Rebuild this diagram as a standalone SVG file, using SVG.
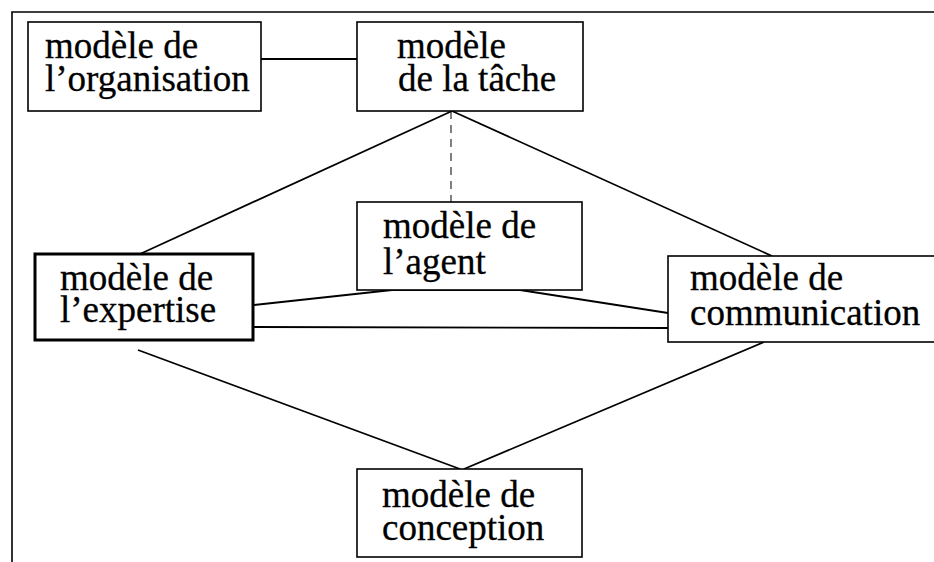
<svg xmlns="http://www.w3.org/2000/svg" width="934" height="562" viewBox="0 0 934 562">
<style>
.box{fill:#fff;stroke:#000;stroke-width:1.6}
.thick{stroke-width:3}
.t{font-family:"Liberation Serif","Times New Roman",serif;font-size:37px;fill:#000;stroke:#000;stroke-width:0.3}
.c{fill:none;stroke:#000;stroke-width:1.8}
.d{fill:none;stroke:#000;stroke-width:1;stroke-dasharray:8 6}
</style>
<rect width="934" height="562" fill="#fff"/>
<g id="frame">
<path d="M12 562 V12 H934" fill="none" stroke="#000" stroke-width="1.6"/>
</g>
<g id="connectors">
<line class="c" x1="261" y1="59" x2="357" y2="59"/>
<line class="d" x1="451" y1="111" x2="451" y2="202"/>
<line class="c" x1="452" y1="111" x2="140" y2="254"/>
<line class="c" x1="452" y1="111" x2="772" y2="256"/>
<polyline class="c" points="254,305 392,290 520,290 668,313"/>
<line class="c" x1="254" y1="327" x2="668" y2="328"/>
<line class="c" x1="138" y1="350" x2="460" y2="469"/>
<line class="c" x1="764" y1="342" x2="464" y2="469"/>
</g>
<g id="organisation">
<rect class="box" x="28" y="22" width="233" height="89"/>
<text class="t"><tspan x="45" y="58">modèle de</tspan><tspan x="45" y="91">l’organisation</tspan></text>
</g>
<g id="tache">
<rect class="box" x="357" y="22" width="226" height="89"/>
<text class="t"><tspan x="397" y="58">modèle</tspan><tspan x="398" y="91">de la tâche</tspan></text>
</g>
<g id="agent">
<rect class="box" x="357" y="202" width="225" height="88"/>
<text class="t"><tspan x="383" y="238">modèle de</tspan><tspan x="383" y="274">l’agent</tspan></text>
</g>
<g id="expertise">
<rect class="box thick" x="35" y="254" width="218" height="86"/>
<text class="t"><tspan x="60" y="290">modèle de</tspan><tspan x="60" y="322">l’expertise</tspan></text>
</g>
<g id="communication">
<rect class="box" x="668" y="256" width="280" height="86"/>
<text class="t"><tspan x="690" y="290">modèle de</tspan><tspan x="690" y="325">communication</tspan></text>
</g>
<g id="conception">
<rect class="box" x="357" y="469" width="225" height="88"/>
<text class="t"><tspan x="382" y="507">modèle de</tspan><tspan x="382" y="540">conception</tspan></text>
</g>
</svg>
